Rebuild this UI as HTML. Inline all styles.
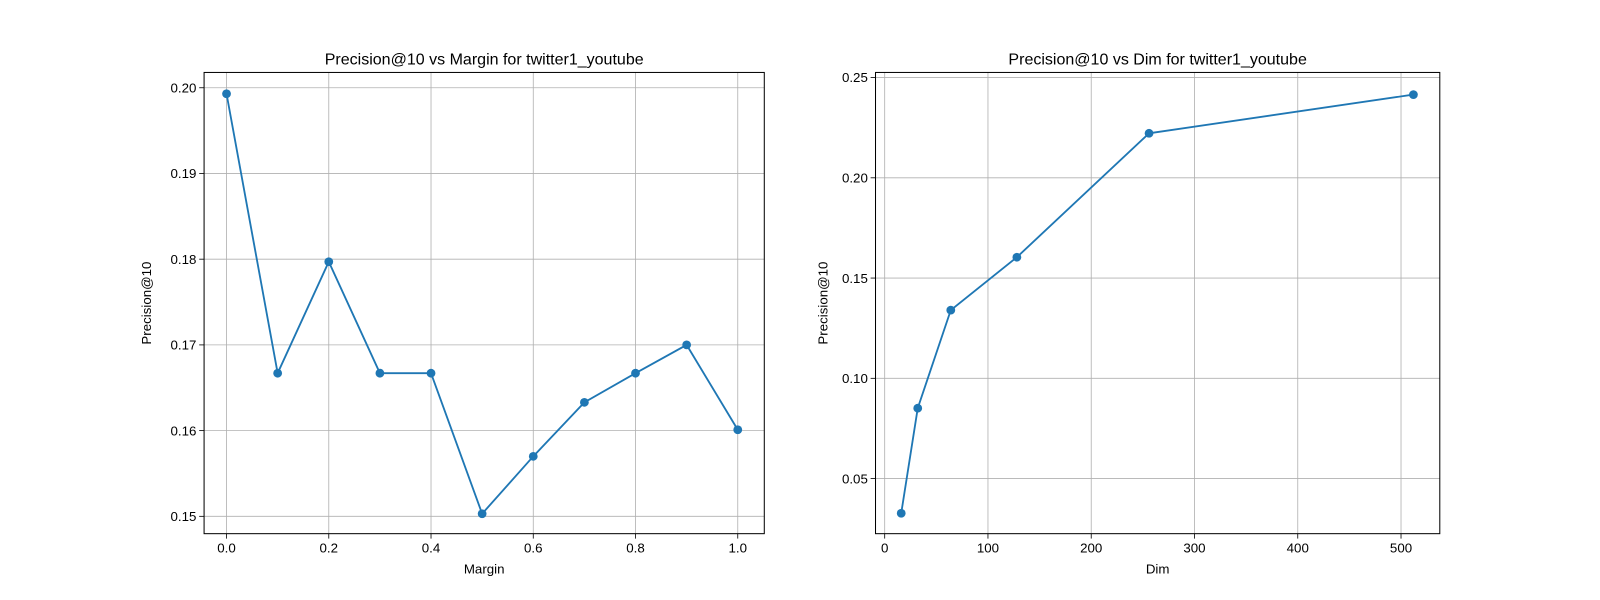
<!DOCTYPE html>
<html><head><meta charset="utf-8"><style>
body{margin:0;background:#fff;}
svg{display:block;font-family:"Liberation Sans","DejaVu Sans",sans-serif;}
</style></head><body>
<svg id="fig" width="1600" height="600" viewBox="0 0 1568 588"></svg>
<script>
const marginX=[0,0.1,0.2,0.3,0.4,0.5,0.6,0.7,0.8,0.9,1.0];
const marginY=[0.1993,0.1667,0.1797,0.1667,0.1667,0.1503,0.1570,0.1633,0.1667,0.1700,0.1601];
const marginXTicks=[0,0.2,0.4,0.6,0.8,1.0];
const marginXTickLabels=["0.0","0.2","0.4","0.6","0.8","1.0"];
const marginYTicks=[0.15,0.16,0.17,0.18,0.19,0.20];
const marginYTickLabels=["0.15","0.16","0.17","0.18","0.19","0.20"];
const dimX=[16,32,64,128,256,512];
const dimY=[0.0327,0.0851,0.1340,0.1604,0.2222,0.2415];
const dimXTicks=[0,100,200,300,400,500];
const dimXTickLabels=["0","100","200","300","400","500"];
const dimYTicks=[0.05,0.10,0.15,0.20,0.25];
const dimYTickLabels=["0.05","0.10","0.15","0.20","0.25"];

const NS="http://www.w3.org/2000/svg";
const svg=document.getElementById('fig');
const FS=13.05, TFS=15.7;
function mk(tag,attrs,parent){const e=document.createElementNS(NS,tag);for(const k in attrs)e.setAttribute(k,attrs[k]);(parent||svg).appendChild(e);return e;}

function panel(p){
  const g=mk('g',{});
  
  
  const sx=v=>p.x0+(v-p.xa)*(p.x1-p.x0)/(p.xb-p.xa);
  const sy=v=>p.y0+(v-p.ya)*(p.y1-p.y0)/(p.yb-p.ya);
  p.xt.forEach((t,i)=>{
    const x=sx(t);
    const gl=mk('line',{x1:x,x2:x,y1:p.top,y2:p.bot,stroke:'#b0b0b0','stroke-width':0.8},g);
    
    mk('line',{x1:x,x2:x,y1:p.bot,y2:p.bot+4.8,stroke:'#000','stroke-width':0.8},g);
    const tx=mk('text',{x:x,y:p.bot+18.5,'font-size':FS,'text-anchor':'middle',fill:'#000'},g);
    tx.textContent=p.xl[i];
    
  });
  p.yt.forEach((t,i)=>{
    const y=sy(t);
    const gl=mk('line',{x1:p.left,x2:p.right,y1:y,y2:y,stroke:'#b0b0b0','stroke-width':0.8},g);
    
    mk('line',{x1:p.left-4.8,x2:p.left,y1:y,y2:y,stroke:'#000','stroke-width':0.8},g);
    const tx=mk('text',{x:p.left-7.5,y:y+4.6,'font-size':FS,'text-anchor':'end',fill:'#000'},g);
    tx.textContent=p.yl[i];
    
  });
  const pts=p.dx.map((v,i)=>sx(v)+','+sy(p.dy[i])).join(' ');
  const pl=mk('polyline',{points:pts,fill:'none',stroke:'#1f77b4','stroke-width':1.8},g);
  
  p.dx.forEach((v,i)=>{
    const c=mk('circle',{cx:sx(v),cy:sy(p.dy[i]),r:4.3,fill:'#1f77b4'},g);
    
  });
  const fr=mk('rect',{x:p.left,y:p.top,width:p.right-p.left,height:p.bot-p.top,fill:'none',stroke:'#000','stroke-width':1},g);
  
  const ti=mk('text',{x:(p.left+p.right)/2,y:p.top-8,'font-size':TFS,'text-anchor':'middle'},g);
  ti.textContent=p.title;
  const xl=mk('text',{x:(p.left+p.right)/2,y:p.bot+39,'font-size':FS,'text-anchor':'middle'},g);
  xl.textContent=p.xlabel;
  const cy=(p.top+p.bot)/2;
  const yl=mk('text',{x:p.ylx,y:cy,'font-size':FS,'text-anchor':'middle',transform:`rotate(-90 ${p.ylx} ${cy})`},g);
  yl.textContent='Precision@10';
}

panel({name:'margin-panel',left:200,right:749,top:71,bot:523,
  xa:0,xb:1,x0:222,x1:723, ya:0.15,yb:0.20,y0:506,y1:86,
  xt:marginXTicks,xl:marginXTickLabels,yt:marginYTicks,yl:marginYTickLabels,
  dx:marginX,dy:marginY,title:'Precision@10 vs Margin for twitter1_youtube',xlabel:'Margin',ylx:148});
panel({name:'dim-panel',left:858,right:1411,top:71,bot:523,
  xa:0,xb:500,x0:867,x1:1373, ya:0.05,yb:0.25,y0:469,y1:76,
  xt:dimXTicks,xl:dimXTickLabels,yt:dimYTicks,yl:dimYTickLabels,
  dx:dimX,dy:dimY,title:'Precision@10 vs Dim for twitter1_youtube',xlabel:'Dim',ylx:811});
</script>
</body></html>
